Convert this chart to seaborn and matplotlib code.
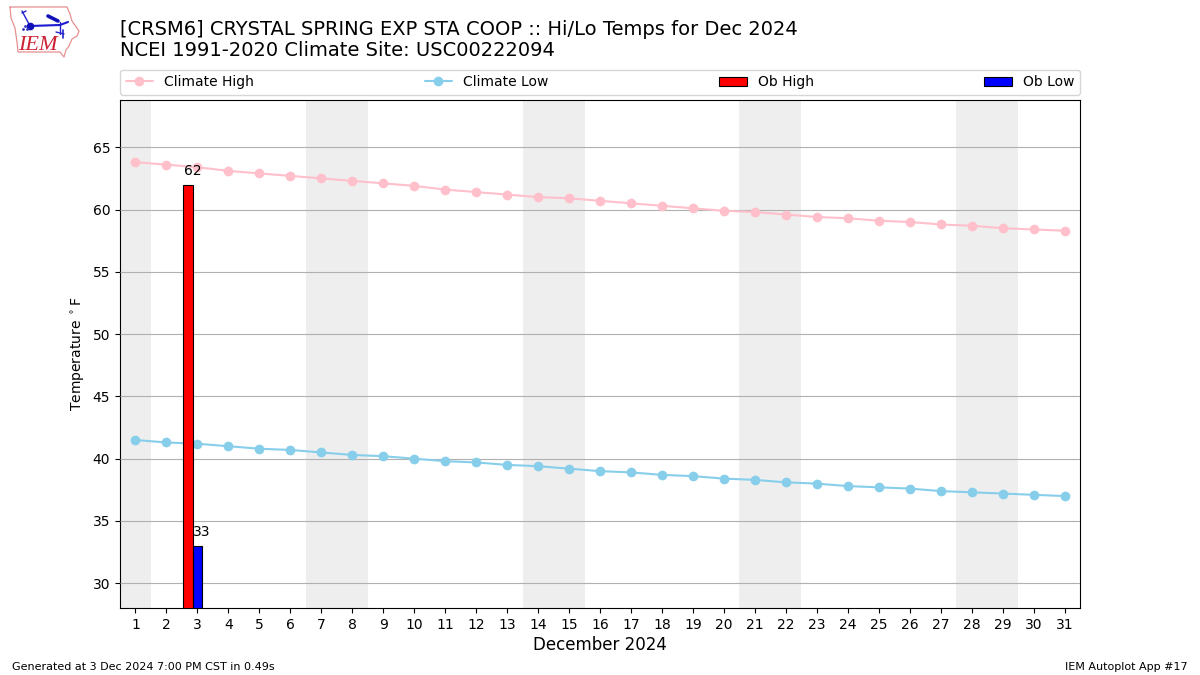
import matplotlib
matplotlib.use("Agg")
import matplotlib.pyplot as plt
import numpy as np
import pandas as pd
import seaborn as sns

days = list(range(1, 32))
climate_high = [63.8, 63.6, 63.4, 63.1, 62.9, 62.7, 62.5, 62.3, 62.1, 61.9, 61.6, 61.4, 61.2, 61.0, 60.9, 60.7,
                60.5, 60.3, 60.1, 59.9, 59.8, 59.6, 59.4, 59.3, 59.1, 59.0, 58.8, 58.7, 58.5, 58.4, 58.3]
climate_low = [41.5, 41.3, 41.2, 41.0, 40.8, 40.7, 40.5, 40.3, 40.2, 40.0, 39.8, 39.7, 39.5, 39.4, 39.2, 39.0,
               38.9, 38.7, 38.6, 38.4, 38.3, 38.1, 38.0, 37.8, 37.7, 37.6, 37.4, 37.3, 37.2, 37.1, 37.0]
ob_days = [3]
ob_high = [62]
ob_low = [33]
weekend_spans = [(0.5, 1.5), (6.5, 8.5), (13.5, 15.5), (20.5, 22.5), (27.5, 29.5)]

sns.set_theme(style="ticks", rc={"axes.grid": False})
plt.rcParams["font.family"] = ["DejaVu Sans"]
plt.rcParams["text.color"] = "black"
plt.rcParams["axes.labelcolor"] = "black"
plt.rcParams["xtick.color"] = "black"
plt.rcParams["ytick.color"] = "black"
plt.rcParams["axes.edgecolor"] = "black"

fig = plt.figure(figsize=(12, 6.75), dpi=100)
ax = fig.add_axes([0.1, 0.099, 0.8, 0.753])

df = pd.DataFrame({"day": days, "high": climate_high, "low": climate_low})
for a, b in weekend_spans:
    ax.axvspan(a, b, color="#EEEEEE", lw=0, zorder=1)
ax.yaxis.grid(True, color="#b0b0b0", lw=0.8)
ax.set_axisbelow(False)

sns.lineplot(data=df, x="day", y="high", ax=ax, color="pink", marker="o", markersize=7,
             markeredgewidth=0, lw=1.5, label="Climate High", zorder=3, errorbar=None)
sns.lineplot(data=df, x="day", y="low", ax=ax, color="skyblue", marker="o", markersize=7,
             markeredgewidth=0, lw=1.5, label="Climate Low", zorder=3, errorbar=None)

ob_d = np.array(ob_days)
ax.bar(ob_d - 0.3, ob_high, width=0.3, color="red", edgecolor="black", lw=0.8, label="Ob High", zorder=4)
ax.bar(ob_d, ob_low, width=0.3, color="blue", edgecolor="black", lw=0.8, label="Ob Low", zorder=4)
for d, h, l in zip(ob_days, ob_high, ob_low):
    ax.text(d - 0.15, h + 0.55, str(h), ha="center", va="bottom", fontsize=10, zorder=5)
    ax.text(d + 0.15, l + 0.55, str(l), ha="center", va="bottom", fontsize=10, zorder=5)

ax.set_xlim(0.5, 31.5)
ax.set_ylim(28, 68.8)
ax.set_xticks(days)
ax.set_yticks(range(30, 70, 5))
ax.tick_params(labelsize=10, length=3.5, width=0.8)
ax.set_xlabel("December 2024", fontsize=12, labelpad=3)
ax.set_ylabel(r"Temperature $^\circ$F", fontsize=10)
for s in ax.spines.values():
    s.set_visible(True)
    s.set_linewidth(0.8)

ax.legend(bbox_to_anchor=(0, 1.01, 1, 0.102), loc="lower left", ncol=4, mode="expand",
          borderaxespad=0, fontsize=10)

fig.text(0.1, 1 - 40 / 675, "[CRSM6] CRYSTAL SPRING EXP STA COOP :: Hi/Lo Temps for Dec 2024\n"
         "NCEI 1991-2020 Climate Site: USC00222094", fontsize=14, va="center", ha="left", linespacing=1.16)
fig.text(0.01, 0.005, "Generated at 3 Dec 2024 7:00 PM CST in 0.49s", fontsize=8, va="bottom")
fig.text(0.99, 0.005, "IEM Autoplot App #17", fontsize=8, va="bottom", ha="right")

# Logo: outline of Iowa with station symbol
logo = fig.add_axes([0, 1 - 60 / 675, 85 / 1200, 60 / 675])
logo.set_xlim(0, 85)
logo.set_ylim(60, 0)
logo.axis("off")
outline_x = [10, 67, 70, 72, 79, 77, 72, 69, 66, 64, 60, 18, 17, 15, 11, 10]
outline_y = [7, 7, 14, 21, 31, 36, 39, 46, 50, 57, 52, 52, 42, 28, 18, 7]
logo.plot(outline_x, outline_y, color="#e89090", lw=0.9)
logo.plot([30, 60, 68], [26, 25, 22], color="#1a1ad0", lw=1.5)
logo.plot([22, 30], [11, 26], color="#2222cc", lw=1)
logo.plot([22, 26], [13, 11], color="#2222cc", lw=1)
logo.plot([30], [26], "o", color="#1111bb", ms=4.5)
logo.plot([48, 58], [16, 21], color="#1111bb", lw=2.6)
logo.plot([60, 60], [22, 34], color="#2222cc", lw=1)
logo.plot([63, 63], [30, 38], color="#2222cc", lw=1.2)
logo.plot([56, 64], [32, 34], color="#2222cc", lw=1)
logo.plot([23, 25, 27], [29, 26, 29], ".", color="#3333bb", ms=2)
logo.text(37.5, 45, "IEM", color="#cc2233", fontsize=16, style="italic", family="Liberation Serif",
          ha="center", va="center", stretch="condensed")

fig.savefig("out.png", dpi=100)
